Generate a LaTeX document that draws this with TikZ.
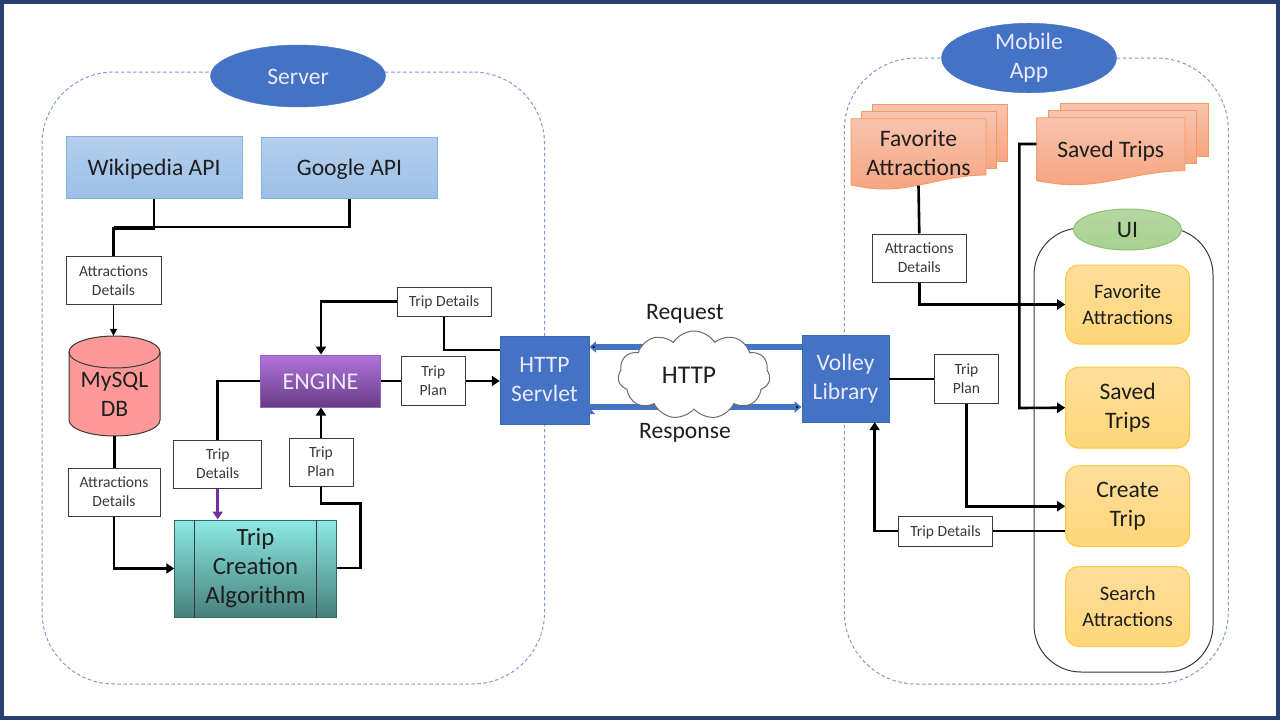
\documentclass[tikz,border=0pt]{standalone}
\usepackage{fontspec}
\setmainfont{Carlito}
\usetikzlibrary{shapes,arrows.meta}

\definecolor{navy}{HTML}{2A4170}
\definecolor{appblue}{HTML}{4472C4}
\definecolor{dashblue}{HTML}{7F9BD0}
\definecolor{labelgray}{HTML}{3A3A3A}
\definecolor{inkblack}{HTML}{1E1E1E}
\definecolor{apitop}{HTML}{B5CFEC}
\definecolor{apibottom}{HTML}{9CBFE7}
\definecolor{apiedge}{HTML}{82B2E3}
\definecolor{docedge}{HTML}{F59A60}
\definecolor{doctop}{HTML}{F8C4AE}
\definecolor{docbottom}{HTML}{F6A582}
\definecolor{screentop}{HTML}{FEDE9C}
\definecolor{screenbottom}{HTML}{FFD678}
\definecolor{screenedge}{HTML}{FFC93A}
\definecolor{uitop}{HTML}{B5D8A3}
\definecolor{uibottom}{HTML}{A8D190}
\definecolor{uiedge}{HTML}{8CC36C}
\definecolor{algotop}{HTML}{8CE9E4}
\definecolor{algobottom}{HTML}{47807C}
\definecolor{algoedge}{HTML}{2F6A66}
\definecolor{enginetop}{HTML}{B273DC}
\definecolor{enginebottom}{HTML}{683E84}
\definecolor{engineedge}{HTML}{9A5FC8}
\definecolor{dbfill}{HTML}{FF9999}
\definecolor{purplelink}{HTML}{7030A0}

\newcommand{\docstack}[4]{
\begin{scope}[shift={(#1,#2)}, docsheet/.style={draw=docedge, line width=0.9pt, top color=doctop, bottom color=docbottom}]
\path[docsheet] (#3*0.157,-14) rectangle ++(#3,#4);
\path[docsheet] (#3*0.08,-7) rectangle ++(#3,#4);
\path[docsheet] (0,0) -- (#3,0) -- (#3,#4) .. controls (#3*0.72,#4) and (#3*0.5,#4+14) .. (#3*0.25,#4+14) .. controls (#3*0.15,#4+14) and (#3*0.08,#4+12) .. (0,#4+10) -- cycle;
\end{scope}
}

\begin{document}
\begin{tikzpicture}[x=1pt, y=-1pt,
every node/.style={text=inkblack},
oneline/.style={execute at begin node={\rule[-0.24em]{0pt}{1.16em}}},
link/.style={draw=black, line width=2.6pt, -{Triangle[length=8pt,width=10pt]}},
plainlink/.style={draw=black, line width=2.6pt},
bigfont/.style={font=\fontsize{23.6}{29}\selectfont},
block/.style={draw=labelgray, fill=white, line width=1pt, inner sep=0pt, align=center, text=labelgray, font=\fontsize{15.6}{19}\selectfont},
group/.style={draw=dashblue, dashed, dash pattern=on 3.5pt off 2.5pt, line width=1pt, rounded corners=72pt, inner sep=0pt},
title/.style={ellipse, fill=appblue, draw=appblue, inner sep=0pt, align=center, text=white!92!blue, bigfont},
api/.style={rectangle, draw=apiedge, line width=1pt, top color=apitop, bottom color=apibottom, inner sep=0pt, bigfont, oneline},
solid box/.style={rectangle, fill=appblue, draw=appblue!90!black, inner sep=0pt, align=center, text=white!92!blue, bigfont},
screen/.style={rectangle, rounded corners=13pt, draw=screenedge, line width=1pt, top color=screentop, bottom color=screenbottom, inner sep=0pt, minimum width=124pt, align=center}]

\fill[navy] (0,0) rectangle (1280,720);
\fill[white] (3.5,4) rectangle (1276,716);

\node[group, minimum width=502.5pt, minimum height=612pt] (serverbox) at (293.3,378) {};
\node[group, minimum width=384pt, minimum height=626pt] (mobilebox) at (1036.3,371) {};

\node[title, oneline, minimum width=175pt, minimum height=62pt] (server) at (298,76) {Server};
\node[title, minimum width=175pt, minimum height=62pt] (mobile) at (1029,58) {Mobile\\App};

\node[api, minimum width=176pt, minimum height=62pt] (wiki) at (154,167) {Wikipedia API};
\node[api, minimum width=176pt, minimum height=61pt] (google) at (349.5,167.5) {Google API};

\node[block, minimum width=95pt, minimum height=48pt] (attr1) at (113.5,280.5) {Attractions\\Details};
\path[draw=labelgray, fill=dbfill, line width=1pt] (69,352) arc[start angle=180, end angle=0, x radius=45.5pt, y radius=16pt] -- (160,420) arc[start angle=0, end angle=-180, x radius=45.5pt, y radius=16pt] -- cycle;
\draw[draw=labelgray, line width=1pt] (69,352) arc[start angle=180, end angle=360, x radius=45.5pt, y radius=16pt];
\node[inner sep=0pt, minimum width=91pt, minimum height=100pt] (db) at (114.5,386) {};
\node[bigfont, align=center, inner sep=0pt] (dblabel) at (114.5,394) {MySQL\\DB};
\node[block, minimum width=92pt, minimum height=48pt] (attr2) at (114,492) {Attractions\\Details};

\node[rectangle, draw=algoedge, line width=1pt, top color=algotop, bottom color=algobottom, inner sep=0pt, align=center, minimum width=161.5pt, minimum height=97pt, font=\fontsize{24.8}{29}\selectfont] (algo) at (255.5,568.5) {Trip\\Creation\\Algorithm};
\draw[draw=labelgray, line width=1pt] ([xshift=20.5pt]algo.north west) -- ([xshift=20.5pt]algo.south west);
\draw[draw=labelgray, line width=1pt] ([xshift=-20.5pt]algo.north east) -- ([xshift=-20.5pt]algo.south east);

\node[rectangle, oneline, draw=engineedge, line width=1pt, top color=enginetop, bottom color=enginebottom, text=white!92!blue, inner sep=0pt, minimum width=119.5pt, minimum height=52pt, font=\fontsize{24}{29}\selectfont] (engine) at (320.5,381) {ENGINE};

\node[block, oneline, minimum width=94pt, minimum height=29pt] (details1) at (444,301.5) {Trip Details};
\node[block, minimum width=88pt, minimum height=48pt] (details2) at (217.7,464) {Trip\\Details};
\node[block, minimum width=64pt, minimum height=48pt] (plan1) at (321,462) {Trip\\Plan};
\node[block, minimum width=64.5pt, minimum height=49pt] (plan2) at (433.3,381) {Trip\\Plan};

\node[solid box, minimum width=89pt, minimum height=88pt] (servlet) at (544.5,380) {HTTP\\Servlet};
\node[solid box, minimum width=87.5pt, minimum height=87pt] (volley) at (845.5,378.5) {Volley\\Library};

\path[draw=appblue, line width=6pt, -{Triangle[length=7pt,width=11pt]}]
 (volley.west |- 0,347) edge (servlet.east |- 0,347)
 (servlet.east |- 0,407) edge (volley.west |- 0,407);

\node[cloud, oneline, cloud puffs=11, cloud puff arc=115, aspect=1.7, draw=gray!85!black, fill=white, line width=1pt, inner sep=0pt, minimum width=152pt, minimum height=88pt, font=\fontsize{25.5}{29}\selectfont] (cloud) at (694,375) {HTTP\hspace*{10pt}};
\node[bigfont, oneline] (request) at (685,311) {Request};
\node[bigfont, oneline] (response) at (685,430) {Response};

\docstack{851}{118.7}{135}{56.3}
\docstack{1036.7}{117.7}{148.3}{53}
\node[inner sep=0pt, align=center, minimum width=135pt, minimum height=67pt, bigfont] (favdoc) at (918.5,152.5) {Favorite\\Attractions};
\node[oneline, inner sep=0pt, minimum width=148.3pt, minimum height=53pt, bigfont] (saveddoc) at (1110.8,149) {Saved Trips};

\node[draw=labelgray, line width=1pt, rounded corners=47pt, inner sep=0pt, minimum width=179pt, minimum height=444pt] (uibox) at (1123.5,450) {};
\node[ellipse, oneline, draw=uiedge, line width=1pt, top color=uitop, bottom color=uibottom, inner sep=0pt, minimum width=108pt, minimum height=41pt, bigfont] (ui) at (1127.5,229.5) {UI};

\node[screen, minimum height=79pt, font=\fontsize{20.5}{26}\selectfont] (favscreen) at (1127.7,304.5) {Favorite\\Attractions};
\node[screen, minimum height=81pt, bigfont] (savedscreen) at (1127.7,407.7) {Saved\\Trips};
\node[screen, minimum height=81pt, bigfont] (createscreen) at (1127.7,506.2) {Create\\Trip};
\node[screen, minimum height=80pt, font=\fontsize{20.5}{26}\selectfont] (searchscreen) at (1127.7,606.5) {Search\\Attractions};

\node[block, minimum width=93.5pt, minimum height=48pt] (attr3) at (919.3,258) {Attractions\\Details};
\node[block, minimum width=64.5pt, minimum height=49pt] (plan3) at (966.5,379) {Trip\\Plan};
\node[block, oneline, minimum width=94.5pt, minimum height=30pt] (details3) at (945.5,531) {Trip Details};

\draw[plainlink] (wiki.south) -- ++(0,30) -| (attr1.north);
\draw[plainlink] (google.south) |- (113.5,227);
\draw[draw=black, line width=1.1pt, -{Triangle[length=7pt,width=7pt]}] (attr1.south) -- (db.north -| attr1.south);
\draw[plainlink] (db.south) -- (attr2.north -| db.south);
\draw[link] (attr2.south) |- (algo.west);
\draw[link, draw=purplelink] (details2.south) -- (algo.north -| details2.south);
\draw[plainlink] (engine.west) -| (details2.north);
\draw[link] (plan1.north) -- (engine.south -| plan1.north);
\draw[plainlink] (plan1.south) -- ++(0,17) -| (360.7,568) -- (algo.east |- 0,568);
\draw[plainlink] (engine.east) -- (plan2.west);
\draw[link] (plan2.east) -- (servlet.west |- plan2.east);
\draw[link] (details1.west) -| (engine.north -| 321,0);
\draw[plainlink] (details1.south) |- (servlet.west |- 0,350);

\draw[plainlink] (favdoc.south -| 918.5,0) ++(0,-0.5) -- (attr3.north);
\draw[link] (attr3.south) |- (favscreen.west);
\draw[link] (saveddoc.west |- 0,144) -| (1019.3,408) -- (savedscreen.west);
\draw[plainlink] (volley.east |- plan3.west) -- (plan3.west);
\draw[link] (plan3.south) |- (createscreen.west);
\draw[plainlink] (createscreen.west |- details3.east) -- (details3.east);
\draw[link] (details3.west) -| (volley.south -| 874.7,0);

\end{tikzpicture}
\end{document}
